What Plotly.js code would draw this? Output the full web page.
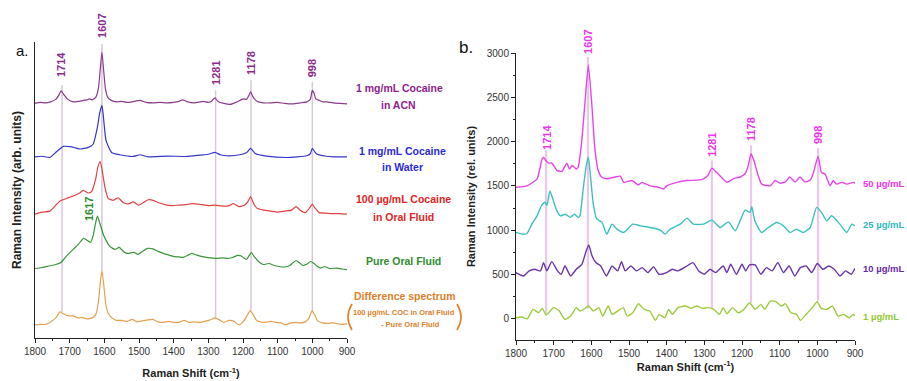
<!DOCTYPE html>
<html><head><meta charset="utf-8">
<script src="https://cdn.plot.ly/plotly-3.0.1.min.js"></script>
<style>html,body{margin:0;padding:0;background:#fff}#chart{width:907px;height:381px}</style>
</head><body><div id="chart"></div>
<script>
// ---------- Panel a (arbitrary units, stacked spectra) ----------
const acnX = [1800,1785,1770,1755,1740,1730,1725,1715,1705,1690,1675,1660,1650,1643,1635,1625,1617,1612,1607,1602,1597,1590,1580,1565,1550,1535,1520,1497,1480,1460,1440,1420,1400,1385,1374,1360,1340,1315,1300,1290,1281,1272,1255,1238,1220,1199,1190,1183,1178,1172,1163,1156,1140,1120,1100,1080,1056,1035,1016,1006,1000,995,990,980,970,958,940,920,900];
const acnY = [233,234,233.5,234.5,237,242,245.5,241,237,234.5,235,236,236.5,237.5,236.5,239,248,266,284,266,248,239,236,234.5,235,234,234.5,236,234,233.5,234,233.5,234,235,236.5,234.5,233.5,235,234,235.5,238.5,235,233,232,234,237.5,237,241,244.5,240,236,234.5,233.5,233.5,234,233,232.5,233.5,234.5,237,246,243,237.5,236,234.5,234.5,233.5,233,232.5];

const waterX = [1800,1780,1757,1737,1718,1699,1685,1670,1646,1632,1620,1613,1607,1603,1595,1579,1555,1517,1497,1474,1420,1362,1324,1300,1281,1265,1247,1209,1189,1178,1165,1132,1074,1016,1006,1000,993,987,960,939,900];
const waterY = [180,180.5,179.3,185.3,190.3,190,189,187.7,189.3,192.7,209.3,224,231,221,196,184.3,182,180.3,182,180,180.7,180.3,181.7,182.5,184.3,182,181,182,184.3,188.3,183.3,180.7,179.3,181,183,188.3,185,182.7,180.5,180,180];

const oralX = [1800,1780,1757,1728,1710,1690,1670,1661,1646,1637,1625,1619,1612,1606,1598,1589,1574,1560,1545,1530,1516,1502,1488,1473,1459,1443,1425,1405,1385,1365,1345,1320,1300,1280,1260,1240,1228,1212,1195,1185,1178,1170,1160,1140,1120,1100,1080,1060,1047,1035,1020,1008,1000,992,980,960,940,920,900];
const oralY = [123,125,126,136,138.5,141,144.3,146.7,144,145.3,158,169.3,175.3,166,149.3,138.7,136.7,139.3,134.3,133.3,135.3,132,134.3,137.3,136.7,134.3,132.5,131.5,132,132.5,133.5,132.5,131.5,132,131,131.5,133.5,130.5,132,136,140.5,134,129,127,126,125,126,127,130.5,127,124.5,129,133,129,124.5,124,123.5,123.5,123];

const pureX = [1800,1780,1760,1740,1725,1710,1690,1675,1660,1650,1640,1632,1626,1620,1613,1603,1595,1584,1570,1557,1545,1535,1524,1514,1503,1490,1475,1460,1445,1430,1415,1400,1385,1373,1360,1348,1335,1320,1305,1290,1276,1260,1245,1230,1215,1205,1190,1182,1176,1168,1155,1142,1125,1110,1095,1080,1065,1055,1047,1038,1027,1015,1005,995,985,975,965,950,930,915,900];
const pureY = [69,70,71.5,73,75,81,88,93,99,97,95,102,113,121,114,103,97,91,88,90,86,84,84.5,85,83,86,89,88.5,86,84,82.5,81,80.5,80,82,84,82.5,81,80,79.5,79,79.5,79,80,82,81.5,78,82,85,81,76,73,74,72,71,70.5,72,75,77,75,72,73.5,76,74,71,69.5,71,69,69.5,68.5,68];

const diffX = [1800,1785,1770,1755,1740,1728,1718,1705,1690,1675,1665,1650,1635,1625,1617,1612,1607,1602,1596,1588,1578,1565,1550,1535,1520,1505,1490,1475,1460,1445,1430,1415,1400,1385,1370,1355,1340,1325,1310,1295,1281,1268,1255,1240,1228,1212,1200,1190,1180,1172,1162,1150,1135,1120,1105,1090,1080,1065,1050,1035,1020,1010,1001,993,985,970,955,940,925,910,900];
const diffY = [13,13.5,13.5,16,20,26,24,22,22,20,20.5,19,20,23,36,54,67,54,34,24,20,17.5,17.5,16.5,18.5,16,17,18,18.5,16,15.5,16.5,15.5,15.5,17.5,15.5,16,15.5,16.5,18,20,18,15.5,17.5,17,13,16,21,27,24,18,16,15.5,16.5,15.5,15,13,14.5,15.5,15,16,19.5,27,23,17,15,14.5,15,14,13.5,14];

const peakTextA = ["1714","1607","1281","1178","998"];
const peakLineA = [1722,1607,1279,1177,1000];
const seriesNamesA = ["1 mg/mL Cocaine","in ACN","1 mg/mL Cocaine","in Water","100 µg/mL Cocaine","in Oral Fluid","Pure Oral Fluid","Difference spectrum"];
const diffNoteA = ["100 µg/mL COC in Oral Fluid","- Pure Oral Fluid"];

// ---------- Panel b (rel. units) ----------
const m50X = [1800,1771,1744,1731,1727,1720,1713,1705,1691,1678,1665,1658,1651,1640,1635,1626,1617,1608,1599,1591,1582,1573,1559,1537,1523,1514,1492,1475,1466,1444,1422,1408,1400,1373,1346,1320,1302,1290,1280,1267,1240,1223,1205,1192,1184,1176,1168,1161,1148,1125,1112,1099,1085,1073,1059,1046,1033,1019,1011,998,989,980,966,958,949,935,922,904,900];
const m50Y = [1484,1500,1580,1800,1825,1780,1757,1757,1673,1665,1757,1690,1730,1690,1710,1980,2435,2865,2435,1940,1676,1600,1580,1600,1610,1540,1560,1510,1540,1500,1484,1465,1500,1540,1560,1565,1580,1620,1700,1650,1540,1580,1600,1636,1720,1863,1780,1673,1520,1500,1560,1530,1545,1600,1545,1600,1545,1565,1640,1833,1650,1636,1500,1560,1520,1540,1520,1540,1530];

const c25X = [1800,1784,1771,1758,1744,1732,1723,1718,1710,1701,1692,1682,1669,1656,1645,1634,1630,1621,1614,1608,1602,1595,1586,1572,1559,1545,1532,1514,1490,1470,1444,1417,1404,1391,1364,1346,1329,1302,1280,1258,1236,1218,1205,1192,1179,1174,1166,1148,1130,1108,1090,1072,1055,1037,1019,1002,989,975,962,940,922,908,900];
const c25Y = [975,955,962,1068,1162,1280,1317,1280,1442,1336,1223,1162,1180,1143,1180,1143,1166,1487,1713,1827,1600,1299,1129,1091,955,1068,1011,974,1068,1049,1030,1000,955,1011,1068,1136,1068,1068,1113,1030,1094,993,1105,1226,1200,1264,1105,974,1030,1087,1049,974,1011,974,1030,1257,1200,1105,1162,1068,974,1068,1049];

const p10X = [1800,1780,1765,1750,1735,1727,1718,1705,1690,1680,1670,1655,1640,1625,1615,1607,1598,1588,1575,1560,1545,1530,1520,1510,1495,1480,1465,1450,1435,1420,1400,1385,1370,1350,1330,1315,1300,1285,1270,1250,1240,1230,1215,1200,1190,1180,1165,1150,1135,1120,1105,1090,1075,1060,1045,1030,1015,1000,985,970,955,940,925,910,900];
const p10Y = [521,483,540,558,540,634,540,645,540,502,596,483,558,615,747,834,709,634,596,483,596,540,645,540,596,540,577,521,585,502,521,558,540,585,634,540,502,558,521,596,521,615,502,615,540,608,608,502,577,540,634,521,596,483,577,596,521,623,558,596,558,483,540,502,570];

const g1X = [1800,1785,1770,1755,1740,1730,1720,1700,1685,1670,1655,1640,1630,1620,1607,1595,1580,1570,1555,1545,1530,1515,1505,1490,1475,1460,1445,1430,1420,1405,1395,1385,1370,1350,1335,1320,1305,1290,1275,1260,1250,1240,1225,1210,1195,1180,1165,1150,1140,1125,1110,1095,1085,1070,1055,1045,1030,1015,1000,990,975,960,945,930,915,905,900];
const g1Y = [11,19,0,106,68,117,42,125,87,-8,30,125,87,106,143,87,125,30,143,49,87,125,30,68,170,106,87,-19,49,11,106,49,125,143,117,143,117,125,106,49,125,57,125,68,106,181,106,162,106,200,192,143,170,68,49,-19,49,117,192,117,106,143,30,49,11,49,30];

const peakTextB = ["1714","1607","1281","1178","998"];
const peakLineB = [1720,1609,1280,1176,998];
const seriesNamesB = ["50 µg/mL","25 µg/mL","10 µg/mL","1 µg/mL"];
const xTicks = [1800,1700,1600,1500,1400,1300,1200,1100,1000,900];

// ---------- helpers ----------
const W = 907, H = 381;
const px = x => x / W, py = y => 1 - y / H;
const SANS = 'Arial, "Liberation Sans", sans-serif';

function tr(x, y, color, w, ax, ay) {
  return {x: x, y: y, type: 'scatter', mode: 'lines', xaxis: ax, yaxis: ay,
    line: {color: color, width: w, shape: 'spline', smoothing: 0.5},
    hoverinfo: 'skip', showlegend: false};
}

const data = [
  tr(acnX, acnY, '#8c3a8c', 1.2, 'x', 'y'),
  tr(waterX, waterY, '#3636cc', 1.2, 'x', 'y'),
  tr(oralX, oralY, '#e04242', 1.2, 'x', 'y'),
  tr(pureX, pureY, '#399539', 1.2, 'x', 'y'),
  tr(diffX, diffY, '#e8a050', 1.2, 'x', 'y'),
  tr(m50X, m50Y, '#e845e8', 1.4, 'x2', 'y2'),
  tr(c25X, c25Y, '#3cc0c0', 1.4, 'x2', 'y2'),
  tr(p10X, p10Y, '#6a34a8', 1.4, 'x2', 'y2'),
  tr(g1X, g1Y, '#9ccc3c', 1.4, 'x2', 'y2')
];

// vertical marker lines
const shapes = [];
const topA = [251, 292, 246, 256, 254], botA = [26, 67, 19, 26, 26];
peakLineA.forEach((v, i) => shapes.push({type: 'line', xref: 'x', yref: 'y', x0: v, x1: v,
  y0: botA[i], y1: topA[i], layer: 'below', line: {color: '#d7c8da', width: 1.5}}));
const topB = [1903, 2956, 1789, 1959, 1925], botB = [57, 113, 113, 181, 204];
peakLineB.forEach((v, i) => shapes.push({type: 'line', xref: 'x2', yref: 'y2', x0: v, x1: v,
  y0: botB[i], y1: topB[i], layer: 'below', line: {color: '#ebc8eb', width: 2.2}}));
// big parentheses around the difference-spectrum note
shapes.push({type: 'path', xref: 'paper', yref: 'paper', line: {color: '#e0802a', width: 1.6},
  path: `M ${px(352)},${py(304)} Q ${px(344)},${py(317)} ${px(352)},${py(330)}`});
shapes.push({type: 'path', xref: 'paper', yref: 'paper', line: {color: '#e0802a', width: 1.6},
  path: `M ${px(457)},${py(304)} Q ${px(465)},${py(317)} ${px(457)},${py(330)}`});

const ann = [];
function A(text, x, y, color, size, opts) {
  ann.push(Object.assign({text: text, x: px(x), y: py(y), xref: 'paper', yref: 'paper',
    showarrow: false, xanchor: 'center', yanchor: 'middle',
    font: {family: SANS, size: size, color: color}}, opts || {}));
}
// peak labels panel a
const labYA = [65, 26, 73, 63, 68];
const labXA = [1725, 1607, 1278, 1177, 1000];
peakTextA.forEach((t, i) => ann.push({text: '<b>' + t + '</b>', x: labXA[i], xref: 'x', y: py(labYA[i]), yref: 'paper',
  showarrow: false, textangle: -90, xanchor: 'center', yanchor: 'middle',
  font: {family: SANS, size: 11, color: '#8e2a8e'}}));
// peak labels panel b
const labYB = [137, 42, 145, 129, 135];
const labXB = [1718, 1609, 1280, 1176, 998];
peakTextB.forEach((t, i) => ann.push({text: '<b>' + t + '</b>', x: labXB[i], xref: 'x2', y: py(labYB[i]), yref: 'paper',
  showarrow: false, textangle: -90, xanchor: 'center', yanchor: 'middle',
  font: {family: SANS, size: 11, color: '#f034f0'}}));
// green 1617
A('<b>1617</b>', 89, 209, '#2e8b2e', 11, {textangle: -90});

// series labels panel a
const cA = ['#8e1e8e', '#8e1e8e', '#2a2ad8', '#2a2ad8', '#e02424', '#e02424', '#2e8b2e', '#e0802a'];
const yA = [88, 105, 151, 167, 199, 217, 261, 296];
const xA = [399, 398, 402, 402, 403, 403, 403, 405];
seriesNamesA.forEach((t, i) => A('<b>' + t + '</b>', xA[i], yA[i], cA[i], 10.5));
A('<b>' + diffNoteA[0] + '</b>', 404, 312, '#e0802a', 7.5);
A('<b>' + diffNoteA[1] + '</b>', 410, 324, '#e0802a', 7.5);

// series labels panel b
const cB = ['#f034f0', '#30b8c0', '#6a2aa8', '#90c830'];
const yB = [183, 225, 268, 316];
seriesNamesB.forEach((t, i) => A('<b>' + t + '</b>', 861, yB[i], cB[i], 9.5, {xanchor: 'left'}));

// panel letters
A('a.', 22, 50, '#111', 15);
A('b.', 466, 47, '#111', 17);

const axCommon = {showgrid: false, zeroline: false, showline: true, linecolor: '#222', linewidth: 1,
  tickcolor: '#222', tickfont: {family: SANS, size: 10, color: '#333'}};

const layout = {
  width: W, height: H, margin: {l: 0, r: 0, t: 0, b: 0},
  paper_bgcolor: '#fff', plot_bgcolor: 'rgba(0,0,0,0)', showlegend: false,
  xaxis: Object.assign({}, axCommon, {domain: [px(35), px(347)], anchor: 'y', range: [1800, 900],
    tickvals: xTicks, ticks: 'outside', ticklen: 4,
    minor: {ticks: 'outside', dtick: 50, tick0: 900, ticklen: 2, tickcolor: '#222'},
    title: {text: '<b>Raman Shift (cm<sup>-1</sup>)</b>', font: {family: SANS, size: 11, color: '#222'}, standoff: 13}}),
  yaxis: Object.assign({}, axCommon, {domain: [py(338), py(42)], anchor: 'x', range: [0, 294],
    showticklabels: false, ticks: '',
    title: {text: '<b>Raman Intensity (arb. units)</b>', font: {family: SANS, size: 12, color: '#222'}, standoff: 9}}),
  xaxis2: Object.assign({}, axCommon, {domain: [px(516), px(855)], anchor: 'y2', range: [1800, 900],
    tickvals: xTicks, ticks: 'outside', ticklen: 4,
    minor: {ticks: 'outside', dtick: 50, tick0: 900, ticklen: 2, tickcolor: '#222'},
    title: {text: '<b>Raman Shift (cm<sup>-1</sup>)</b>', font: {family: SANS, size: 11, color: '#222'}, standoff: 4}}),
  yaxis2: Object.assign({}, axCommon, {domain: [py(340), py(53)], anchor: 'x2', range: [-240, 3000],
    dtick: 500, tick0: 0, ticks: 'outside', ticklen: 4,
    minor: {ticks: 'outside', dtick: 250, ticklen: 2, tickcolor: '#222'},
    title: {text: '<b>Raman Intensity (rel. units)</b>', font: {family: SANS, size: 11, color: '#222'}, standoff: 8}}),
  shapes: shapes,
  annotations: ann
};

Plotly.newPlot('chart', data, layout, {staticPlot: true, displayModeBar: false});
</script>
</body></html>
